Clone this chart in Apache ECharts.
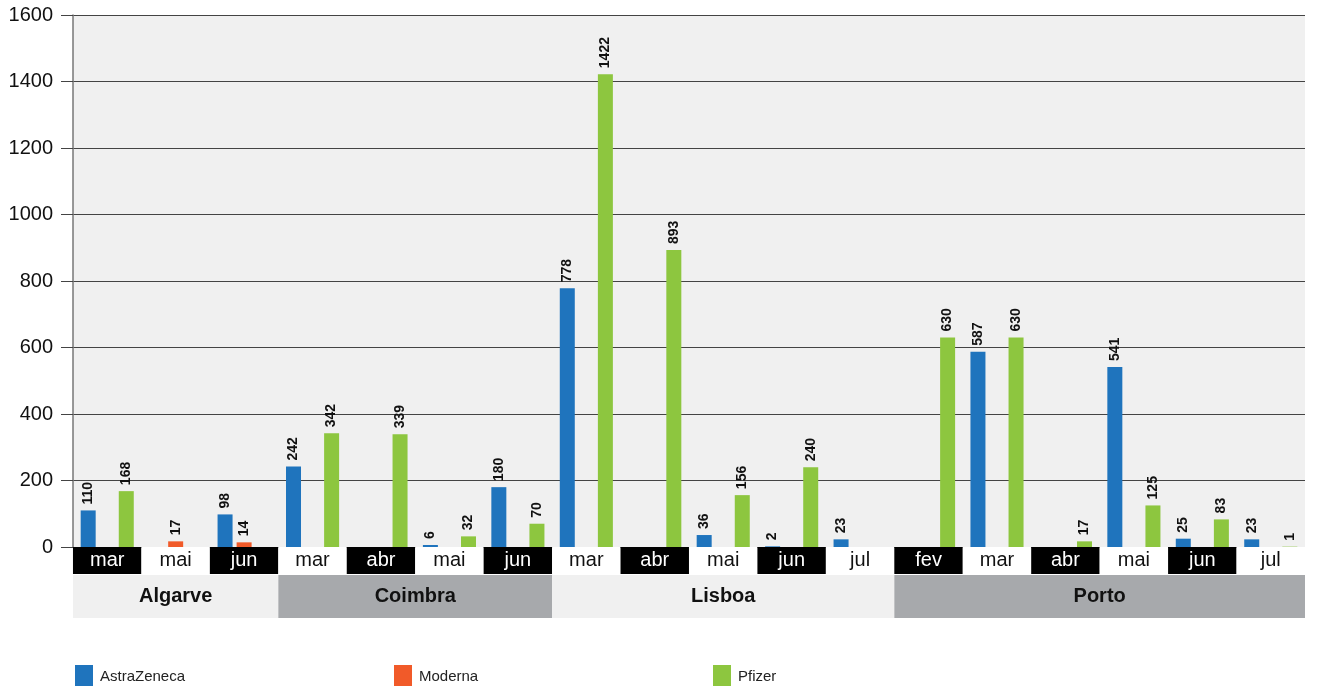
<!DOCTYPE html>
<html>
<head>
<meta charset="utf-8">
<script src="https://cdn.jsdelivr.net/npm/echarts@6/dist/echarts.min.js"></script>
<style>html,body{margin:0;padding:0;background:#fff;}#c{width:1317px;height:686px;}</style>
</head>
<body>
<div id="c"></div>
<script>
const categories = ['mar','mai','jun','mar','abr','mai','jun','mar','abr','mai','jun','jul','fev','mar','abr','mai','jun','jul'];
const regions = ['Algarve','Coimbra','Lisboa','Porto'];
const regionSizes = [3,4,5,6];
const astraZeneca = [110,null,98,242,null,6,180,778,null,36,2,23,null,587,null,541,25,23];
const moderna = [null,17,14,null,null,null,null,null,null,null,null,null,null,null,null,null,null,null];
const pfizer = [168,null,null,342,339,32,70,1422,893,156,240,null,630,630,17,125,83,1];
const seriesNames = ['AstraZeneca','Moderna','Pfizer'];
const yTicks = [0,200,400,600,800,1000,1200,1400,1600];

const FONT = '"Liberation Sans", Arial, sans-serif';
const colors = ['#1f74bd','#f15a29','#8dc63f'];
const chart = echarts.init(document.getElementById('c'));

const barLabel = {
  show: true, position: 'top', rotate: 90, align: 'left', verticalAlign: 'middle',
  distance: 6, fontSize: 14, fontWeight: 'bold', color: '#111', fontFamily: FONT
};
function barSeries(name, data, color) {
  return {
    name, type: 'bar', data, xAxisIndex: 0, yAxisIndex: 0,
    barWidth: 15, barGap: '27%',
    itemStyle: { color }, label: barLabel
  };
}
const regionSeries = regions.map((r, i) => ({
  name: r, type: 'bar', stack: 'reg', xAxisIndex: 1, yAxisIndex: 1,
  data: [regionSizes[i]], barWidth: '100%',
  itemStyle: { color: i % 2 === 0 ? '#f0f0f0' : '#a7a9ac' },
  label: { show: true, position: 'inside', formatter: r, fontSize: 20, fontWeight: 'bold', color: '#111', fontFamily: FONT },
  emphasis: { disabled: true }
}));
const legendLefts = [75, 394, 713];

chart.setOption({
  animation: false,
  textStyle: { fontFamily: FONT },
  grid: [
    { left: 73, right: 12, top: 15, bottom: 139, show: true, backgroundColor: '#f0f0f0', borderWidth: 0 },
    { left: 73, right: 12, top: 575, height: 43 }
  ],
  legend: seriesNames.map((n, i) => ({
    data: [n], left: legendLefts[i], top: 665, padding: 0, icon: 'rect', itemWidth: 18, itemHeight: 24,
    itemGap: 6, textStyle: { fontSize: 15, color: '#222', fontFamily: FONT, padding: [6,0,0,2] }, selectedMode: false
  })),
  xAxis: [
    {
      type: 'category', data: categories, gridIndex: 0,
      axisLine: { show: false }, axisTick: { show: false },
      axisLabel: {
        margin: 0, interval: 0,
        formatter: (v, i) => (i % 2 === 0 ? '{b|' + v + '}' : '{w|' + v + '}'),
        rich: {
          b: { backgroundColor: '#000', color: '#fff', width: 68.5, height: 27, lineHeight: 27, align: 'center', fontSize: 20, fontFamily: FONT },
          w: { backgroundColor: '#fff', color: '#111', width: 68.5, height: 27, lineHeight: 27, align: 'center', fontSize: 20, fontFamily: FONT }
        }
      }
    },
    { type: 'value', gridIndex: 1, min: 0, max: categories.length, show: false }
  ],
  yAxis: [
    {
      type: 'value', gridIndex: 0, min: yTicks[0], max: yTicks[yTicks.length - 1], interval: 200,
      axisLine: { show: true, lineStyle: { color: '#777', width: 1.5 } },
      axisTick: { show: true, length: 12, lineStyle: { color: '#444' } },
      axisLabel: { fontSize: 20, color: '#111', margin: 20, fontFamily: FONT, formatter: v => String(v) },
      splitLine: { lineStyle: { color: '#444', width: 1 } }
    },
    { type: 'category', gridIndex: 1, data: ['r'], show: false }
  ],
  series: [
    barSeries(seriesNames[0], astraZeneca, colors[0]),
    barSeries(seriesNames[1], moderna, colors[1]),
    barSeries(seriesNames[2], pfizer, colors[2]),
    ...regionSeries
  ]
});
</script>
</body>
</html>
